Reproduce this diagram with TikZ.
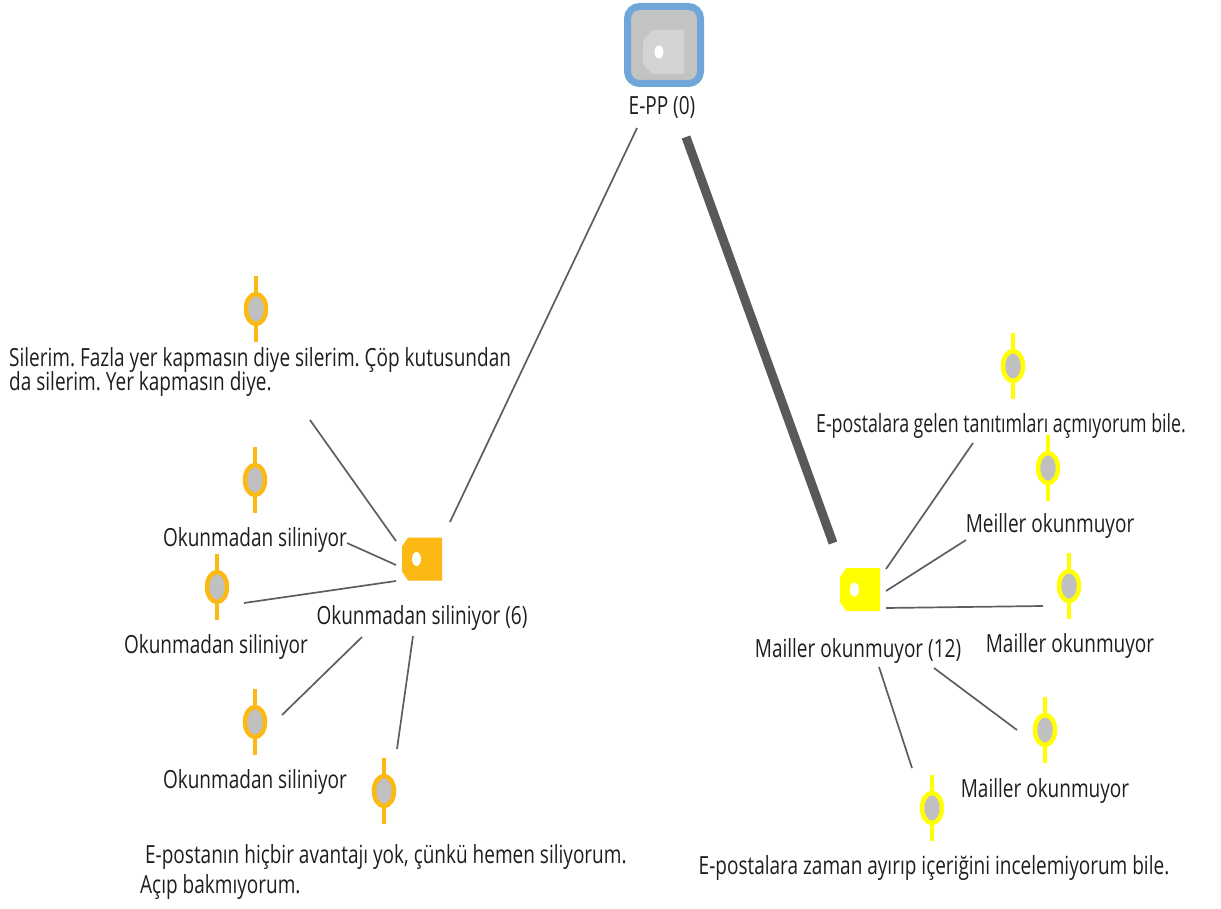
\documentclass[tikz,border=0pt]{standalone}
\usepackage{fontspec}
\setmainfont[FakeStretch=0.76]{Open Sans}
\usetikzlibrary{shapes.geometric,calc}

\definecolor{codeOrange}{HTML}{FDB913}
\definecolor{codeYellow}{HTML}{FFFF00}
\definecolor{bubbleGray}{HTML}{C0C0C0}
\definecolor{rootBlue}{HTML}{70A7D8}
\definecolor{rootGray}{HTML}{C3C3C3}
\definecolor{rootLight}{HTML}{D3D3D3}
\definecolor{linkGray}{HTML}{5E5E5E}
\definecolor{txt}{HTML}{1E1E1E}

\frenchspacing

\tikzset{
  lbl/.style={font=\fontsize{25}{30}\selectfont, text=txt, inner sep=0pt},
  link/.style={draw=linkGray, line width=1.7pt},
  heavylink/.style={draw=linkGray!95!black, line width=9pt},
  quote/.style={ellipse, draw=#1, fill=bubbleGray, line width=4.5pt,
    minimum width=20pt, minimum height=30pt, inner sep=0pt},
  stem/.style={draw=#1, line width=4pt},
  codetag/.style={minimum width=40pt, minimum height=43pt, inner sep=0pt, outer sep=0pt,
    path picture={
      \fill[#1] ([xshift=6pt]path picture bounding box.north west)
        -- (path picture bounding box.north east)
        -- (path picture bounding box.south east)
        -- ([xshift=6pt]path picture bounding box.south west)
        -- ([yshift=9pt]path picture bounding box.south west)
        -- ([yshift=-9pt]path picture bounding box.north west) -- cycle;
      \fill[white] ([xshift=14.5pt]path picture bounding box.west)
        ellipse [x radius=4.5pt, y radius=7pt];
    }},
}

\begin{document}
\begin{tikzpicture}[x=1pt, y=-1pt]
\useasboundingbox (0,0) rectangle (1221,909);

% ---- root document node ----
\node[draw=rootBlue, fill=rootGray, line width=7pt, rounded corners=12pt,
      minimum width=73pt, minimum height=77pt, inner sep=0pt] (root) at (664,45) {};
\fill[rootLight] (652,30) -- (684,30) -- (684,74) -- (652,74) -- (643,64) -- (643,41) -- cycle;
\fill[white] (659,52) ellipse [x radius=4.5pt, y radius=6.5pt];
\node[lbl] (rootlbl) at (662,107) {E-PP (0)};

% ---- code nodes ----
\node[codetag=codeOrange] (codeA) at (422,559) {};
\node[lbl] (codeAlbl) at (422,618) {Okunmadan siliniyor (6)};
\node[codetag=codeYellow] (codeB) at (860,589.5) {};
\node[lbl] (codeBlbl) at (858,651) {Mailler okunmuyor (12)};

% ---- quotations of the first code ----
\foreach \n/\x/\y in {qa1/256/309, qa2/255/480, qa3/217/587, qa4/255/722, qa5/384/791}{
  \draw[stem=codeOrange] (\x,\y-33) -- (\x,\y+33);
  \node[quote=codeOrange] (\n) at (\x,\y) {};
}
\node[lbl, anchor=west, align=left] (qa1lbl) at (9,372)
  {Silerim. Fazla yer kapmasın diye silerim. Çöp kutusundan\\[-6pt]da silerim. Yer kapmasın diye.};
\node[lbl] (qa2lbl) at (255,540) {Okunmadan siliniyor};
\node[lbl] (qa3lbl) at (216,647) {Okunmadan siliniyor};
\node[lbl] (qa4lbl) at (255,782) {Okunmadan siliniyor};
\node[lbl, anchor=west, align=left] (qa5lbl) at (140,872)
  {\ E-postanın hiçbir avantajı yok, çünkü hemen siliyorum.\\[0pt]Açıp bakmıyorum.};

% ---- quotations of the second code ----
\foreach \n/\x/\y in {qb1/1013/366, qb2/1048/468, qb3/1069/586, qb4/1045/730, qb5/932/808}{
  \draw[stem=codeYellow] (\x,\y-33) -- (\x,\y+33);
  \node[quote=codeYellow] (\n) at (\x,\y) {};
}
\node[lbl] (qb1lbl) at (1001,426) {\scalebox{0.935}[1]{E-postalara gelen tanıtımları açmıyorum bile.}};
\node[lbl] (qb2lbl) at (1050,526) {Meiller okunmuyor};
\node[lbl] (qb3lbl) at (1070,646) {Mailler okunmuyor};
\node[lbl] (qb4lbl) at (1045,791) {Mailler okunmuyor};
\node[lbl] (qb5lbl) at (934,868) {E-postalara zaman ayırıp içeriğini incelemiyorum bile.};

% ---- link end points ----
\coordinate (rA) at (637,128);
\coordinate (rB) at (686,137);
\coordinate (cAtop) at (450,522);
\coordinate (cBtop) at (833,543);
\coordinate (a1) at (310,420);   \coordinate (a1c) at (396,541);
\coordinate (a2) at (347,543);   \coordinate (a2c) at (396,565);
\coordinate (a3) at (244,603);   \coordinate (a3c) at (396,581);
\coordinate (a4) at (282,715);   \coordinate (a4c) at (362,637);
\coordinate (a5) at (397,749);   \coordinate (a5c) at (413,636);
\coordinate (b1) at (973,443);   \coordinate (b1c) at (886,569);
\coordinate (b2) at (966,540);   \coordinate (b2c) at (886,591);
\coordinate (b3) at (1043,606);  \coordinate (b3c) at (886,608);
\coordinate (b4) at (1017,730);  \coordinate (b4c) at (934,668);
\coordinate (b5) at (912,768);   \coordinate (b5c) at (879,667);

% ---- links ----
\draw[link] (rA) -- (cAtop);
\draw[heavylink] (rB) -- (cBtop);
\foreach \p in {1,...,5}{
  \draw[link] (a\p) -- (a\p c);
  \draw[link] (b\p) -- (b\p c);
}
\end{tikzpicture}
\end{document}
